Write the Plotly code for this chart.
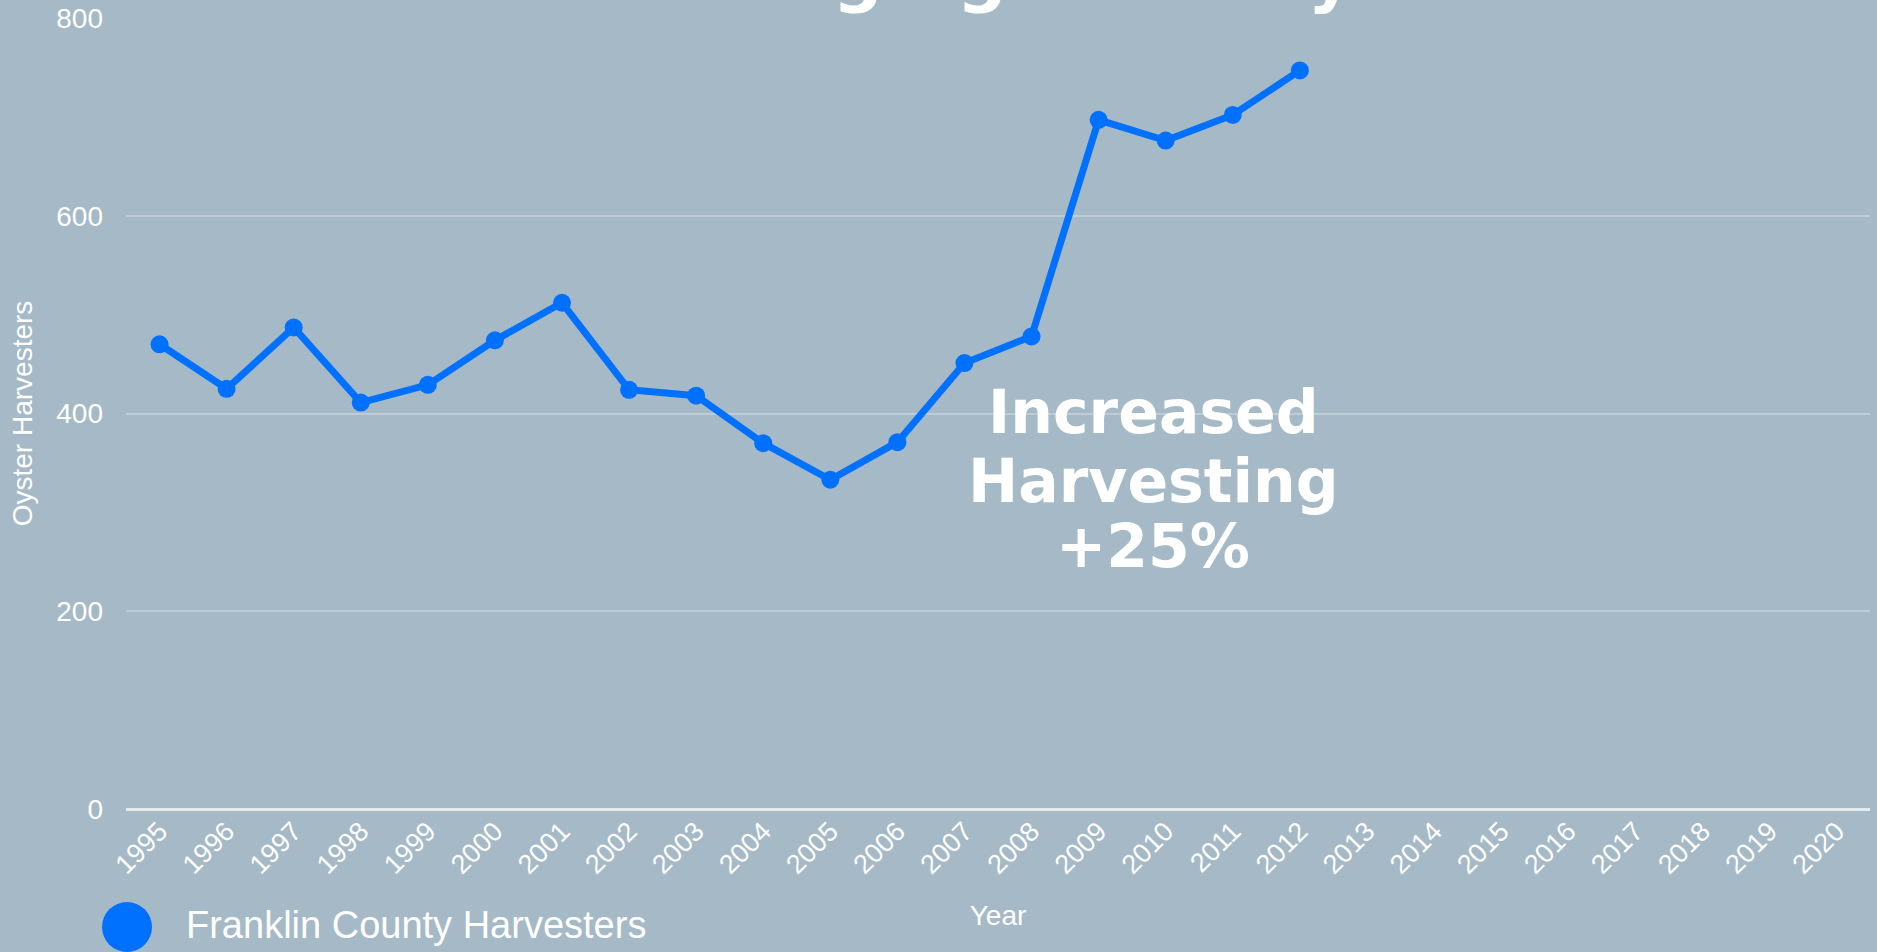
import plotly.graph_objects as go

years = [str(y) for y in range(1995, 2021)]
data_years = [str(y) for y in range(1995, 2013)]
harvesters = [470, 425, 487, 411, 429, 474, 512, 424, 418, 370, 333, 371, 451, 478, 697, 676, 702, 747]

series_name = "Franklin County Harvesters"
title_text = "Surging Steadily"
callout_lines = ["Increased", "Harvesting", "+25%"]

BG = "#A5B9C7"
BLUE = "#0070FF"
FONT = "Liberation Sans, Arial, Helvetica, sans-serif"

W, H = 1877, 952
ML, MR, MT, MB = 126, 7, 18, 143
PW, PH = W - ML - MR, H - MT - MB


def px(x):
    return (x - ML) / PW


def py(y):
    return (H - MB - y) / PH


fig = go.Figure()
fig.add_trace(go.Scatter(
    x=data_years, y=harvesters, mode="lines+markers", name=series_name,
    line=dict(color=BLUE, width=7), marker=dict(color=BLUE, size=18),
    showlegend=False,
))

fig.update_layout(
    width=W, height=H,
    paper_bgcolor=BG, plot_bgcolor=BG,
    margin=dict(l=ML, r=MR, t=MT, b=MB),
    font=dict(family=FONT, color="white", size=28),
    xaxis=dict(
        type="category", categoryorder="array", categoryarray=years,
        range=[-0.5, len(years) - 0.5],
        tickmode="array", tickvals=years, ticktext=years,
        tickangle=-45, showgrid=False, zeroline=False, showline=False,
        tickfont=dict(size=27, color="white"),
        title=dict(text="Year", font=dict(size=28, color="white"), standoff=26),
        automargin=False,
    ),
    yaxis=dict(
        range=[0, 800], dtick=200, showgrid=True,
        gridcolor="rgba(255,255,255,0.28)", gridwidth=2,
        zeroline=True, zerolinecolor="rgba(255,255,255,0.7)", zerolinewidth=3,
        showline=False, ticklabelstandoff=22,
        tickfont=dict(size=28, color="white"),
        title=dict(text="Oyster Harvesters", font=dict(size=28, color="white"), standoff=15),
        automargin=False,
    ),
)

# Title (cropped at the top edge of the page, as in the reference)
fig.add_annotation(
    text=title_text, xref="paper", yref="paper", x=px(1026), y=1.0,
    xanchor="center", yanchor="bottom", showarrow=False,
    font=dict(family="DejaVu Sans", size=70, color="white", weight="bold"),
)

# Callout, one line per annotation for tight line spacing
for line, yc in zip(callout_lines, [412, 481, 546]):
    fig.add_annotation(
        text=line, xref="paper", yref="paper", x=px(1153), y=py(yc),
        xanchor="center", yanchor="middle", showarrow=False,
        font=dict(family="DejaVu Sans", size=60, color="white", weight="bold"),
    )

# Custom legend (large circle symbol)
fig.add_shape(
    type="circle", xref="paper", yref="paper", xsizemode="pixel", ysizemode="pixel",
    xanchor=px(127), yanchor=py(927),
    x0=-25, x1=25, y0=-25, y1=25, fillcolor=BLUE, line=dict(width=0),
)
fig.add_annotation(
    text=series_name, xref="paper", yref="paper", x=px(184), y=py(925),
    xanchor="left", yanchor="middle", showarrow=False,
    font=dict(family=FONT, size=38, color="white"),
)

fig.write_html(
    "out.html",
    config={"displayModeBar": False},
    post_script="document.body.style.margin='0';document.body.style.background='%s';"
                "document.documentElement.style.overflow='hidden';" % BG,
)
